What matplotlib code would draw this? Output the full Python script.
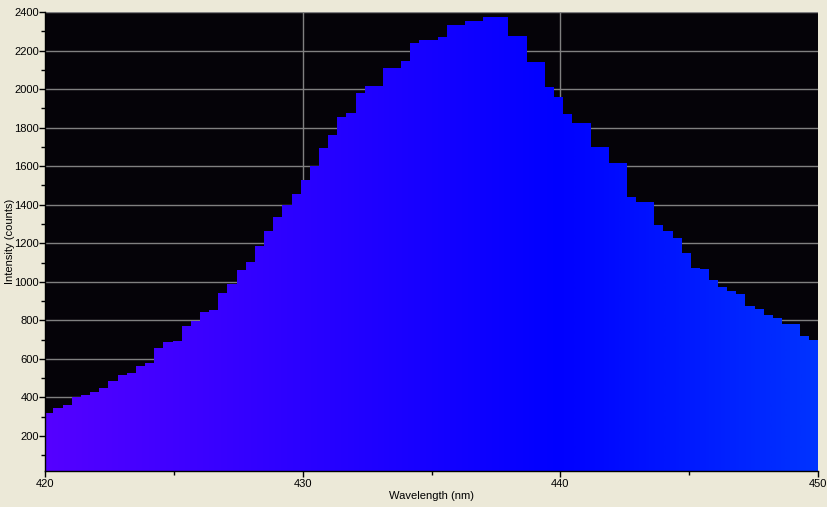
import numpy as np
import matplotlib
matplotlib.use("Agg")
import matplotlib.pyplot as plt
from matplotlib.colors import LinearSegmentedColormap
from matplotlib.ticker import MultipleLocator, FixedLocator

# ---- data ----
wl_edges = [419.94, 420.30, 420.69, 421.04, 421.40, 421.75, 422.10, 422.45, 422.83, 423.18,
            423.53, 423.88, 424.23, 424.58, 424.97, 425.32, 425.67, 426.02, 426.36, 426.71,
            427.06, 427.45, 427.80, 428.15, 428.50, 428.85, 429.20, 429.59, 429.94, 430.28,
            430.63, 430.98, 431.33, 431.68, 432.07, 432.42, 432.77, 433.12, 433.47, 433.82,
            434.17, 434.51, 434.88, 435.25, 435.60, 435.95, 436.30, 436.65, 437.00, 437.48,
            437.97, 438.32, 438.71, 439.06, 439.40, 439.75, 440.10, 440.45, 440.82, 441.19,
            441.54, 441.89, 442.24, 442.59, 442.94, 443.29, 443.63, 443.98, 444.37, 444.72,
            445.07, 445.42, 445.77, 446.12, 446.47, 446.82, 447.17, 447.55, 447.90, 448.25,
            448.60, 448.95, 449.30, 449.65, 450.35]
intensity = [320, 347, 361, 403, 413, 430, 450, 487, 517, 527,
             565, 579, 658, 689, 694, 772, 797, 844, 855, 943,
             990, 1062, 1104, 1187, 1264, 1336, 1398, 1457, 1528, 1601,
             1694, 1761, 1855, 1876, 1979, 2016, 2016, 2109, 2109, 2146,
             2239, 2255, 2255, 2271, 2334, 2334, 2353, 2353, 2375, 2375,
             2277, 2277, 2141, 2141, 2011, 1959, 1871, 1824, 1824, 1699,
             1699, 1616, 1616, 1440, 1414, 1414, 1295, 1264, 1228, 1149,
             1072, 1067, 1010, 973, 952, 936, 874, 858, 827, 811,
             780, 780, 719, 698]
x_ticks = [420, 430, 440, 450]
x_minor = [425, 435, 445]
x_label = "Wavelength (nm)"
y_label = "Intensity (counts)"

# spectral colour stops (wavelength -> colour)
stop_wl = [420, 440, 450]
stop_rgb = [(0.333, 0.0, 1.0), (0.0, 0.0, 1.0), (0.0, 0.2, 1.0)]

XMIN, XMAX = 420, 450
YMIN, YMAX = 18, 2400
FONT = "Liberation Sans"

fig = plt.figure(figsize=(8.28, 5.07), dpi=100, facecolor="#ece9d8")
ax = fig.add_axes([45/828, 36/507, 773/828, 459/507])
ax.set_facecolor("#050308")

# stepped spectrum outline (used as clip for the colour gradient)
patch = ax.stairs(intensity, wl_edges, fill=True, baseline=0,
                  facecolor="none", edgecolor="none", zorder=2)

cmap = LinearSegmentedColormap.from_list(
    "spec", [((w - stop_wl[0]) / (stop_wl[-1] - stop_wl[0]), c) for w, c in zip(stop_wl, stop_rgb)])
grad = np.linspace(0, 1, 800).reshape(1, -1)
img = ax.imshow(grad, cmap=cmap, aspect="auto", extent=[XMIN, XMAX, 0, YMAX],
                origin="lower", interpolation="bilinear", zorder=2)
img.set_clip_path(patch)

ax.set_xlim(XMIN, XMAX)
ax.set_ylim(YMIN, YMAX)

ax.xaxis.set_major_locator(FixedLocator(x_ticks))
ax.xaxis.set_minor_locator(FixedLocator(x_minor))
ax.set_yticks(np.arange(200, 2401, 200))
ax.yaxis.set_minor_locator(MultipleLocator(100))

ax.set_axisbelow(True)
ax.grid(True, which="major", color="#808080", linewidth=1.0)
xgl = ax.xaxis.get_gridlines()
xgl[0].set_visible(False)
xgl[-1].set_visible(False)

for s in ["top", "right"]:
    ax.spines[s].set_visible(False)
for s in ["left", "bottom"]:
    ax.spines[s].set_color("black")
    ax.spines[s].set_linewidth(1.0)
    ax.spines[s].set_zorder(3)

ax.tick_params(axis="both", which="major", direction="out", length=4, width=1,
               color="black", labelsize=8, labelcolor="black", pad=2)
ax.tick_params(axis="y", which="major", pad=0.5)
ax.tick_params(axis="both", which="minor", direction="out", length=3, width=1, color="black")

for lab in ax.get_xticklabels() + ax.get_yticklabels():
    lab.set_family(FONT)

ax.set_xlabel(x_label, fontsize=8, family=FONT)
ax.set_ylabel(y_label, fontsize=8, family=FONT)
ax.xaxis.set_label_coords(0.5, -25/459)
ax.yaxis.set_label_coords(-35/773, 0.5)
ax.yaxis.label.set_verticalalignment("center")
ax.xaxis.label.set_verticalalignment("center")

fig.savefig("out.png", dpi=100, facecolor=fig.get_facecolor())
